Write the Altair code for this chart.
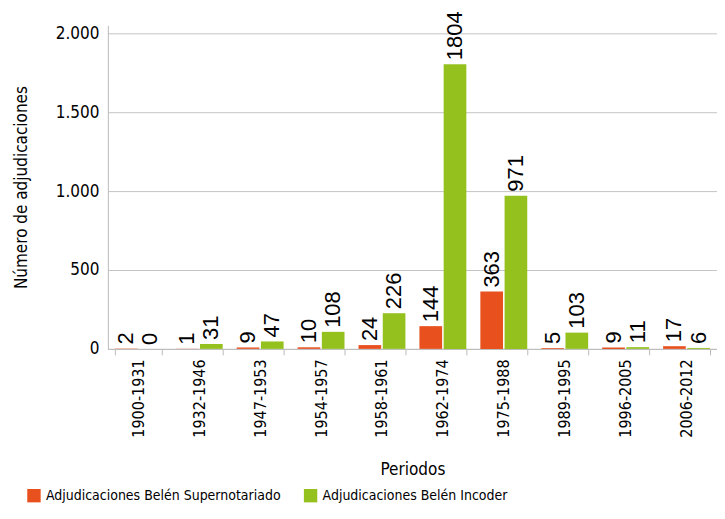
import altair as alt
import pandas as pd

periods = ["1900-1931", "1932-1946", "1947-1953", "1954-1957", "1958-1961",
           "1962-1974", "1975-1988", "1989-1995", "1996-2005", "2006-2012"]
supernotariado = [2, 1, 9, 10, 24, 144, 363, 5, 9, 17]
incoder = [0, 31, 47, 108, 226, 1804, 971, 103, 11, 6]
series_names = ["Adjudicaciones Belén Supernotariado", "Adjudicaciones Belén Incoder"]
series_colors = ["#E8501E", "#95C11F"]

rows = []
for p, a, b in zip(periods, supernotariado, incoder):
    rows.append({"Periodo": p, "Serie": series_names[0], "Valor": a})
    rows.append({"Periodo": p, "Serie": series_names[1], "Valor": b})
df = pd.DataFrame(rows)

COND = "DejaVu Sans Condensed, Roboto, sans-serif"

x = alt.X("Periodo:N", sort=periods, title="Periodos",
          scale=alt.Scale(paddingInner=0.23, paddingOuter=0.115),
          axis=alt.Axis(labelAngle=-90, labelFont=COND, labelFontSize=16, labelColor="#000",
                        labelPadding=4, tickBand="extent", tickSize=6, tickColor="#bbbbbb",
                        domainColor="#bbbbbb", titleFont=COND, titleFontSize=17,
                        titleFontWeight="normal", titleColor="#000", titlePadding=24,
                        labelBaseline="middle"))
xo = alt.XOffset("Serie:N", sort=series_names, scale=alt.Scale(paddingInner=0.064))

y = alt.Y("Valor:Q", title="Número de adjudicaciones",
          scale=alt.Scale(domain=[0, 2050], nice=False),
          axis=alt.Axis(values=[0, 500, 1000, 1500, 2000],
                        labelExpr="replace(format(datum.value, ','), ',', '.')",
                        labelFont=COND, labelFontSize=17, labelColor="#000", labelPadding=9,
                        ticks=False, domainColor="#bbbbbb", gridColor="#c4c4c4",
                        titleFont=COND, titleFontSize=17, titleFontWeight="normal",
                        titleColor="#000", titlePadding=25))

color = alt.Color("Serie:N", sort=series_names,
                  scale=alt.Scale(domain=series_names, range=series_colors),
                  legend=alt.Legend(title=None, orient="none", direction="horizontal",
                                    legendX=-81, legendY=464, symbolType="square",
                                    symbolSize=180, symbolStrokeWidth=0, symbolOpacity=1,
                                    labelFont=COND, labelFontSize=14, labelColor="#000",
                                    labelLimit=0, columnPadding=22, labelOffset=5))

bars = alt.Chart(df).mark_bar().encode(x=x, xOffset=xo, y=y, color=color)

labels = alt.Chart(df).mark_text(angle=270, align="left", baseline="middle", dx=4,
                                 font="Liberation Sans, Arial, sans-serif",
                                 fontSize=22, color="#000").encode(
    x=alt.X("Periodo:N", sort=periods), xOffset=xo, y="Valor:Q", text="Valor:Q")

chart = alt.layer(bars, labels).properties(
    width=610, height=324,
    autosize=alt.AutoSizeParams(type="none"),
    padding={"left": 100, "top": 17, "right": 0, "bottom": 170},
).configure_view(stroke=None)

chart.save("out.html", embed_options={"renderer": "svg", "actions": False})
